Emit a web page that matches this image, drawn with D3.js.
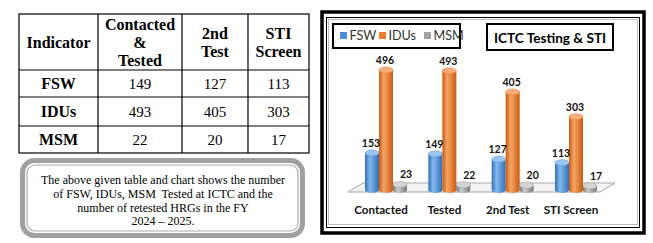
<!DOCTYPE html>
<html>
<head>
<meta charset="utf-8">
<script src="https://cdn.jsdelivr.net/npm/d3@7"></script>
<style>
  body { margin: 0; background: #fff; }
  svg { display: block; }
</style>
</head>
<body>
<script>
// table data
var tableHeaders = [["Indicator"], ["Contacted", "&", "Tested"], ["2nd", "Test"], ["STI", "Screen"]];
var tableRows = ["FSW", "IDUs", "MSM"];
var tableValues = [[149, 127, 113], [493, 405, 303], [22, 20, 17]];
var noteLines = ["The above given table and chart shows the number",
                 "of FSW, IDUs, MSM  Tested at ICTC and the",
                 "number of retested HRGs in the FY",
                 "2024 \u2013 2025."];

// chart data
var categories = ["Contacted", "Tested", "2nd Test", "STI Screen"];
var series = ["FSW", "IDUs", "MSM"];
var fsw = [153, 149, 127, 113];
var idus = [496, 493, 405, 303];
var msm = [23, 22, 20, 17];
var chartTitle = "ICTC Testing & STI";

var svg = d3.select("body").append("svg").attr("width", 653).attr("height", 243);

// ---------- table ----------
var colX = [19, 98, 182, 248, 309];
var rowY = [14, 70, 97, 126, 153];
var serif = "'Liberation Serif', 'Times New Roman', serif";
var tbl = svg.append("g");

tbl.append("rect").attr("x", colX[0]).attr("y", rowY[0])
  .attr("width", colX[4] - colX[0]).attr("height", rowY[4] - rowY[0])
  .attr("fill", "none").attr("stroke", "#000").attr("stroke-width", 1.2);
colX.slice(1, 4).forEach(function (x) {
  tbl.append("line").attr("x1", x).attr("x2", x).attr("y1", rowY[0]).attr("y2", rowY[4])
    .attr("stroke", "#000").attr("stroke-width", 1.2);
});
rowY.slice(1, 4).forEach(function (y) {
  tbl.append("line").attr("x1", colX[0]).attr("x2", colX[4]).attr("y1", y).attr("y2", y)
    .attr("stroke", "#000").attr("stroke-width", 1.2);
});

tableHeaders.forEach(function (lines, i) {
  var cx = (colX[i] + colX[i + 1]) / 2;
  var y0 = 48 - (lines.length - 1) * 9;
  lines.forEach(function (t, j) {
    tbl.append("text").attr("x", cx).attr("y", y0 + j * 18)
      .attr("text-anchor", "middle").style("font-family", serif)
      .style("font-size", "16px").style("font-weight", "bold").text(t);
  });
});

tableRows.forEach(function (r, i) {
  var cy = (rowY[i + 1] + rowY[i + 2]) / 2 + 5.5;
  tbl.append("text").attr("x", (colX[0] + colX[1]) / 2).attr("y", cy)
    .attr("text-anchor", "middle").style("font-family", serif)
    .style("font-size", "16px").style("font-weight", "bold").text(r);
  tableValues[i].forEach(function (v, j) {
    tbl.append("text").attr("x", (colX[j + 1] + colX[j + 2]) / 2).attr("y", cy)
      .attr("text-anchor", "middle").style("font-family", serif)
      .style("font-size", "15px").text(v);
  });
});

// ---------- note box ----------
var defs = svg.append("defs");
defs.append("clipPath").attr("id", "noteClip").append("rect")
  .attr("x", 20).attr("y", 160).attr("width", 285).attr("height", 65);

svg.append("rect").attr("x", 22.5).attr("y", 160.5).attr("width", 280).attr("height", 75)
  .attr("rx", 12).attr("fill", "#fff").attr("stroke", "#a0a0a0").attr("stroke-width", 5);
svg.append("rect").attr("x", 27).attr("y", 165).attr("width", 271).attr("height", 66)
  .attr("rx", 8).attr("fill", "none").attr("stroke", "#ababab").attr("stroke-width", 1.2);

var note = svg.append("g").attr("clip-path", "url(#noteClip)");
noteLines.forEach(function (t, i) {
  note.append("text").attr("x", 163).attr("y", 184 + i * 13.8)
    .attr("text-anchor", "middle").style("font-family", serif)
    .style("font-size", "12px").style("white-space", "pre").text(t);
});

// ---------- chart frame ----------
svg.append("rect").attr("x", 322).attr("y", 12).attr("width", 322).attr("height", 221)
  .attr("fill", "#fff").attr("stroke", "#000").attr("stroke-width", 3.5);
svg.append("rect").attr("x", 326.5).attr("y", 17.5).attr("width", 313).attr("height", 210)
  .attr("fill", "none").attr("stroke", "#000").attr("stroke-width", 1);
svg.append("rect").attr("x", 328.5).attr("y", 19.5).attr("width", 309).attr("height", 205)
  .attr("fill", "none").attr("stroke", "#bdbdbd").attr("stroke-width", 1);

var sans = "Lato, 'Open Sans', sans-serif";

// ---------- scales ----------
var x = d3.scaleBand().domain(categories).range([346, 616]).paddingInner(0.337).paddingOuter(0.3);
var xs = d3.scaleBand().domain(series).range([0, x.bandwidth()]);
var y = d3.scaleLinear().domain([0, 500]).range([190, 69]);

var colors = {
  FSW: { base: "#4a8fd8", dark: "#2f6fb8", light: "#86b9ec", top: "#9cc6f0" },
  IDUs: { base: "#ef7d2c", dark: "#c95c10", light: "#f8a468", top: "#f7ae7a" },
  MSM: { base: "#a3a3a3", dark: "#777777", light: "#cccccc", top: "#d4d4d4" }
};
series.forEach(function (s) {
  var g = defs.append("linearGradient").attr("id", "grad" + s)
    .attr("x1", "0%").attr("x2", "100%").attr("y1", "0%").attr("y2", "0%");
  g.append("stop").attr("offset", "0%").attr("stop-color", colors[s].dark);
  g.append("stop").attr("offset", "35%").attr("stop-color", colors[s].light);
  g.append("stop").attr("offset", "100%").attr("stop-color", colors[s].dark);
});

// floor
var r = x.range(), base = y(0);
svg.append("path")
  .attr("d", "M" + (r[0] + 2) + "," + (base + 2) + "L" + (r[0] + 17) + "," + (base - 7) +
    "L" + (r[1] - 1) + "," + (base - 7) + "L" + (r[1] - 16) + "," + (base + 2) + "Z")
  .attr("fill", "#f4f4f4").attr("stroke", "#a6a6a6").attr("stroke-width", 1);

var rows = [];
categories.forEach(function (c, i) {
  rows.push({ cat: c, s: "FSW", v: fsw[i] });
  rows.push({ cat: c, s: "IDUs", v: idus[i] });
  rows.push({ cat: c, s: "MSM", v: msm[i] });
});

var bw = xs.bandwidth(), ry = 3;
var bars = svg.append("g").selectAll("g").data(rows).enter().append("g");

bars.append("ellipse")
  .attr("cx", function (d) { return x(d.cat) + xs(d.s) + bw / 2; })
  .attr("cy", base).attr("rx", bw / 2).attr("ry", ry)
  .attr("fill", function (d) { return "url(#grad" + d.s + ")"; });
bars.append("rect")
  .attr("x", function (d) { return x(d.cat) + xs(d.s); })
  .attr("y", function (d) { return y(d.v); })
  .attr("width", bw)
  .attr("height", function (d) { return base - y(d.v); })
  .attr("fill", function (d) { return "url(#grad" + d.s + ")"; });
bars.append("ellipse")
  .attr("cx", function (d) { return x(d.cat) + xs(d.s) + bw / 2; })
  .attr("cy", function (d) { return y(d.v); })
  .attr("rx", bw / 2).attr("ry", ry)
  .attr("fill", function (d) { return colors[d.s].top; })
  .attr("stroke", function (d) { return colors[d.s].base; }).attr("stroke-width", 0.5);

// value labels on top of all bars
var dxs = { FSW: -1, IDUs: -1, MSM: 6 };
svg.append("g").selectAll("text").data(rows).enter().append("text")
  .attr("x", function (d) { return x(d.cat) + xs(d.s) + bw / 2 + dxs[d.s]; })
  .attr("y", function (d) { return y(d.v) - 6; })
  .attr("text-anchor", "middle")
  .style("font-family", sans).style("font-size", "10.5px").style("font-weight", "bold")
  .attr("fill", "#111").text(function (d) { return d.v; });

// category labels
svg.append("g").selectAll("text").data(categories).enter().append("text")
  .attr("x", function (d) { return x(d) + x.bandwidth() / 2 - 5; })
  .attr("y", 214)
  .attr("text-anchor", "middle")
  .style("font-family", sans).style("font-size", "11.6px").style("font-weight", "bold")
  .attr("fill", "#111").text(function (d) { return d; });

// legend
svg.append("rect").attr("x", 333).attr("y", 24).attr("width", 127).attr("height", 24)
  .attr("fill", "#fff").attr("stroke", "#000").attr("stroke-width", 2);
var legX = [340, 379, 424];
var leg = svg.append("g").selectAll("g").data(series).enter().append("g")
  .attr("transform", function (d, i) { return "translate(" + legX[i] + ",32)"; });
leg.append("rect").attr("width", 7).attr("height", 7)
  .attr("fill", function (d) { return colors[d].base; });
leg.append("text").attr("x", 9.5).attr("y", 7.5)
  .style("font-family", sans).style("font-size", "12.6px")
  .attr("fill", "#333").text(function (d) { return d; });

// title
svg.append("rect").attr("x", 487).attr("y", 24).attr("width", 126).attr("height", 26)
  .attr("fill", "#fff").attr("stroke", "#000").attr("stroke-width", 2);
svg.append("text").attr("x", 550).attr("y", 42.5).attr("text-anchor", "middle")
  .style("font-family", sans).style("font-size", "13.6px").style("font-weight", "bold")
  .attr("fill", "#000").text(chartTitle);
</script>
</body>
</html>
